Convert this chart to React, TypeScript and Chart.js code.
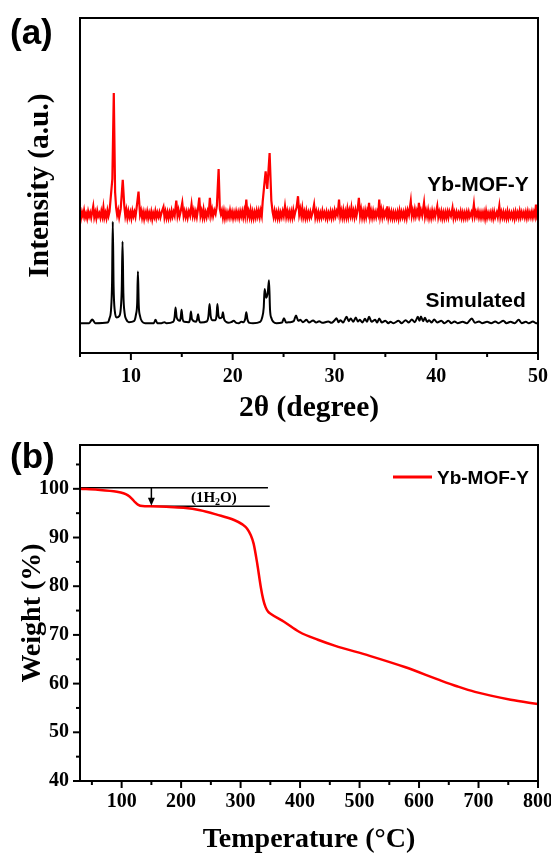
import React, { useEffect, useRef } from 'react';
import { Chart, registerables } from 'chart.js';

Chart.register(...registerables);

const SERIF = '"Liberation Serif", "Times New Roman", serif';
const SANS = '"Liberation Sans", Arial, sans-serif';

// ---------------- Panel (a): XRD patterns ----------------
const xrdTickValues = [5, 10, 15, 20, 25, 30, 35, 40, 45, 50];
const xrdLabelValues = [10, 20, 30, 40, 50];
const xrdTitleX = '2θ (degree)';
const xrdTitleY = 'Intensity (a.u.)';
const xrdSeriesNames = ['Yb-MOF-Y', 'Simulated'];
// name anchors in data coordinates [2θ (right edge), intensity (baseline)]
const xrdNameAnchors: [number, number][] = [[49.1, 48.4], [48.8, 13.7]];

const simulatedPattern: [number, number][] = [
  [5.0, 8.9], [5.9, 8.9], [6.2, 10.0], [6.5, 8.9],
  [7.7, 9.1], [7.9, 10.4], [8.05, 13], [8.15, 21], [8.22, 39.2], [8.3, 20], [8.42, 12.5],
  [8.6, 10.6], [8.85, 11], [9.0, 13], [9.1, 19], [9.18, 33.3], [9.26, 18], [9.38, 12], [9.55, 10], [9.8, 9.2],
  [10.3, 9.5], [10.5, 11.5], [10.62, 15], [10.69, 24.3], [10.77, 14.5], [10.9, 11], [11.1, 9.4], [11.4, 8.9],
  [12.25, 8.9], [12.42, 9.9], [12.6, 8.9], [13.0, 8.9], [13.3, 9.2], [13.5, 8.9],
  [14.15, 9.3], [14.3, 10.8], [14.39, 13.6], [14.5, 10.6], [14.8, 9.6], [14.9, 10.6], [14.98, 12.9], [15.08, 10.2], [15.25, 9.3],
  [15.7, 9.2], [15.82, 10.3], [15.9, 12.4], [16.0, 10.1], [16.4, 9.3], [16.52, 10.2], [16.6, 11.6], [16.7, 9.8], [16.85, 9.1],
  [17.45, 9.4], [17.62, 11], [17.73, 14.6], [17.84, 11], [18.0, 9.8], [18.3, 9.8], [18.42, 11.2], [18.5, 14.6], [18.6, 11.2],
  [18.75, 10.4], [18.95, 10.7], [19.04, 12.2], [19.15, 10.2], [19.35, 9.3], [19.6, 9.0], [19.85, 9.2], [20.1, 9.6],
  [20.35, 9.0], [20.6, 8.9], [20.85, 9.3], [21.05, 9.2], [21.24, 10.3], [21.34, 12.2], [21.45, 10.1], [21.65, 9.0], [22.0, 8.9],
  [22.7, 9.3], [22.9, 10.6], [23.05, 13.5], [23.14, 19.1], [23.3, 16.5], [23.45, 18], [23.57, 21.7],
  [23.67, 13], [23.82, 10.3], [24.0, 9.3], [24.3, 8.9],
  [24.85, 9.1], [25.04, 10.4], [25.25, 9.1], [25.6, 9.2], [26.0, 9.5], [26.22, 11.2],
  [26.45, 9.6], [26.65, 9.9], [26.9, 9.2], [27.26, 9.9], [27.5, 9.1], [27.9, 9.7],
  [28.2, 9.1], [28.5, 9.5], [28.8, 9.0], [29.4, 9.4], [29.7, 9.0],
  [30.0, 9.7], [30.2, 10.4], [30.4, 9.2], [30.6, 9.8], [30.85, 9.1], [31.2, 10.8],
  [31.4, 9.5], [31.6, 10.3], [31.85, 9.3], [32.1, 10.6], [32.3, 9.4], [32.5, 9.9],
  [32.75, 9.1], [33.0, 10.2], [33.2, 9.3], [33.4, 10.8], [33.65, 9.3], [34.0, 9.9],
  [34.2, 9.1], [34.4, 10.3], [34.65, 9.1], [35.0, 9.6], [35.3, 8.9], [35.5, 9.3],
  [35.8, 8.9], [36.3, 9.6], [36.6, 8.9], [37.0, 9.8], [37.3, 9.1], [37.6, 10.0],
  [37.9, 9.2], [38.2, 10.8], [38.35, 9.6], [38.5, 10.9], [38.7, 9.5], [38.9, 10.5],
  [39.1, 9.3], [39.3, 9.8], [39.55, 9.1], [39.8, 10.0], [40.1, 9.1], [40.5, 9.6],
  [40.8, 8.9], [41.2, 9.6], [41.5, 8.9], [41.8, 9.4], [42.1, 8.9], [42.6, 9.3],
  [43.0, 8.9], [43.5, 10.3], [43.8, 9.0], [44.2, 9.4], [44.5, 8.9], [45.0, 9.3],
  [45.4, 8.9], [45.8, 9.4], [46.1, 8.9], [46.6, 9.6], [46.9, 8.9], [47.3, 9.3],
  [47.7, 8.9], [48.1, 9.9], [48.4, 8.9], [48.8, 9.3], [49.1, 8.9], [49.5, 9.4],
  [49.8, 8.9], [50.0, 9.0],
];

const ybMofPattern: [number, number][] = [
  [5.0, 41.8], [5.1, 40.3], [5.2, 42.1], [5.3, 40.9], [5.4, 42.6], [5.5, 40.5], [5.6, 41.6],
  [5.7, 40.2], [5.8, 42.2], [5.9, 40.8], [6.0, 41.9], [6.1, 40.4], [6.3, 43.8], [6.4, 40.6],
  [6.5, 42.0], [6.6, 40.3], [6.7, 42.4], [6.8, 40.9], [6.9, 41.7], [7.0, 40.4], [7.1, 42.3],
  [7.2, 40.8], [7.3, 43.4], [7.4, 40.5], [7.5, 41.8], [7.6, 40.3], [7.7, 42.5], [7.8, 40.9],
  [7.9, 42.2], [8.05, 47.5], [8.18, 52], [8.32, 77.6], [8.45, 48], [8.55, 43.4], [8.65, 41.2],
  [8.75, 42.6], [8.85, 40.5], [9.0, 43.0], [9.2, 51.7], [9.35, 44], [9.45, 41.0], [9.55, 42.7],
  [9.65, 40.4], [9.75, 42.3], [9.85, 40.6], [9.95, 42.0], [10.05, 40.3], [10.15, 42.4],
  [10.25, 40.9], [10.35, 42.1], [10.45, 40.7], [10.55, 43.0], [10.75, 48.2], [10.9, 41.3],
  [11.0, 42.5], [11.1, 40.4], [11.2, 42.0], [11.3, 40.1], [11.4, 41.9], [11.5, 40.6],
  [11.6, 42.2], [11.7, 40.3], [11.8, 41.8], [11.9, 40.5], [12.0, 42.1], [12.1, 40.0],
  [12.2, 41.7], [12.3, 40.6], [12.4, 42.3], [12.5, 40.4], [12.6, 41.9], [12.7, 40.7],
  [12.8, 42.0], [12.9, 40.5], [13.05, 42.3], [13.2, 43.6], [13.3, 40.6], [13.4, 42.2],
  [13.5, 40.4], [13.6, 42.0], [13.7, 40.3], [13.8, 41.9], [13.9, 40.5], [14.0, 42.4],
  [14.1, 40.8], [14.2, 42.1], [14.3, 41.0], [14.46, 45.5], [14.58, 41.0], [14.68, 42.6],
  [14.78, 40.8], [14.9, 42.4], [15.05, 44.9], [15.18, 40.9], [15.28, 42.3], [15.38, 40.6],
  [15.48, 42.1], [15.58, 40.4], [15.7, 42.3], [15.82, 41.0], [15.96, 44.3], [16.08, 41.0],
  [16.18, 42.5], [16.28, 40.7], [16.38, 42.2], [16.48, 40.6], [16.58, 42.6], [16.72, 46.4],
  [16.84, 41.0], [16.94, 42.4], [17.04, 40.6], [17.14, 42.8], [17.24, 40.5], [17.34, 42.0],
  [17.44, 40.6], [17.54, 42.3], [17.64, 41.2], [17.76, 46.3], [17.88, 41.2], [17.98, 42.8],
  [18.08, 40.9], [18.2, 42.6], [18.32, 41.5], [18.45, 44], [18.62, 54.9], [18.74, 43],
  [18.84, 41.5], [18.94, 42.6], [19.04, 40.5], [19.14, 42.4], [19.24, 40.3], [19.34, 42.0],
  [19.44, 40.4], [19.54, 41.9], [19.64, 40.6], [19.74, 42.5], [19.84, 40.7], [19.94, 42.1],
  [20.04, 40.3], [20.14, 41.9], [20.24, 40.5], [20.34, 42.2], [20.44, 40.6], [20.54, 42.0],
  [20.64, 40.4], [20.74, 42.2], [20.84, 40.8], [20.94, 42.3], [21.04, 40.5], [21.14, 42.4],
  [21.22, 41.0], [21.34, 45.8], [21.46, 40.8], [21.56, 42.3], [21.66, 40.6], [21.76, 42.6],
  [21.86, 40.4], [21.96, 42.1], [22.06, 40.3], [22.16, 42.0], [22.26, 40.5], [22.36, 42.4],
  [22.46, 40.8], [22.56, 42.4], [22.66, 40.6], [22.76, 42.5], [22.86, 41.0],
  [22.95, 45.2], [23.1, 50], [23.24, 54.2], [23.4, 49], [23.63, 59.7], [23.8, 45.5],
  [23.92, 42.2], [24.02, 40.6], [24.12, 42.4], [24.22, 40.5], [24.32, 42.0], [24.42, 40.3],
  [24.52, 42.1], [24.62, 40.3], [24.72, 41.9], [24.82, 40.6], [24.92, 42.3], [25.02, 40.9],
  [25.14, 43.8], [25.26, 40.7], [25.36, 42.3], [25.46, 40.5], [25.56, 42.1], [25.66, 40.4],
  [25.76, 42.2], [25.86, 40.5], [25.96, 42.6], [26.06, 40.8], [26.16, 42.2], [26.28, 43.4],
  [26.42, 46.8], [26.54, 41.4], [26.64, 43.0], [26.74, 41.0], [26.84, 43.2], [26.94, 40.6],
  [27.04, 42.1], [27.14, 40.4], [27.24, 42.3], [27.34, 40.4], [27.44, 41.9], [27.54, 40.5],
  [27.64, 42.1], [27.74, 40.7], [27.86, 42.0], [28.0, 44.3], [28.12, 40.6], [28.22, 42.2],
  [28.32, 40.4], [28.42, 42.0], [28.52, 40.3], [28.62, 41.8], [28.72, 40.5], [28.82, 42.4],
  [28.92, 40.8], [29.02, 41.9], [29.12, 40.4], [29.22, 42.0], [29.32, 40.2], [29.42, 41.8],
  [29.52, 40.6], [29.62, 42.2], [29.72, 40.4], [29.82, 42.0], [29.92, 40.6], [30.02, 42.5],
  [30.12, 40.9], [30.22, 42.3], [30.32, 41.3], [30.45, 45.8], [30.57, 40.8], [30.67, 42.4],
  [30.77, 40.6], [30.87, 42.6], [30.97, 40.5], [31.07, 42.2], [31.17, 40.6], [31.27, 42.9],
  [31.37, 40.7], [31.47, 42.5], [31.57, 41.0], [31.67, 43.3], [31.77, 40.9], [31.87, 42.4],
  [31.97, 40.6], [32.07, 42.6], [32.17, 41.0], [32.28, 42.8], [32.4, 46.3], [32.52, 41.0],
  [32.62, 42.8], [32.72, 40.5], [32.82, 42.2], [32.92, 40.4], [33.02, 42.4], [33.12, 40.6],
  [33.22, 42.4], [33.3, 41.5], [33.4, 44.8], [33.5, 40.7], [33.6, 42.3], [33.7, 40.5],
  [33.8, 42.3], [33.9, 40.6], [34.0, 42.0], [34.1, 40.6], [34.2, 42.2], [34.3, 41.2],
  [34.4, 45.8], [34.5, 40.9], [34.6, 42.7], [34.7, 40.6], [34.8, 42.5], [34.9, 40.8],
  [35.0, 42.1], [35.1, 41.0], [35.2, 43.8], [35.3, 40.5], [35.4, 42.2], [35.5, 40.5],
  [35.6, 42.1], [35.7, 40.3], [35.8, 41.9], [35.9, 40.3], [36.0, 41.9], [36.1, 40.4],
  [36.2, 42.0], [36.3, 40.2], [36.4, 42.4], [36.5, 40.6], [36.6, 42.1], [36.7, 40.6],
  [36.8, 42.0], [36.9, 40.4], [37.0, 42.2], [37.1, 40.4], [37.2, 42.6], [37.32, 41.2],
  [37.5, 45.3], [37.6, 41.0], [37.7, 42.5], [37.8, 40.8], [37.9, 42.8], [38.0, 40.9],
  [38.1, 42.4], [38.2, 41.2], [38.3, 44.8], [38.4, 41.2], [38.5, 42.6], [38.62, 41.0],
  [38.8, 44.8], [38.9, 40.8], [39.0, 42.4], [39.1, 40.8], [39.2, 42.6], [39.3, 40.4],
  [39.4, 42.0], [39.5, 40.4], [39.6, 42.4], [39.7, 40.7], [39.8, 42.2], [39.9, 40.7],
  [40.1, 43.8], [40.2, 40.6], [40.3, 42.1], [40.4, 40.6], [40.5, 42.2], [40.6, 40.3],
  [40.7, 41.9], [40.8, 40.3], [40.9, 42.0], [41.0, 40.5], [41.1, 42.1], [41.2, 40.5],
  [41.3, 42.3], [41.45, 40.9], [41.6, 43.3], [41.7, 40.4], [41.8, 41.9], [41.9, 40.4],
  [42.0, 42.0], [42.1, 40.6], [42.2, 41.8], [42.3, 40.6], [42.4, 42.2], [42.5, 40.4],
  [42.6, 41.9], [42.7, 40.3], [42.8, 41.8], [42.9, 40.4], [43.0, 42.0], [43.1, 40.5],
  [43.2, 42.1], [43.3, 40.7], [43.45, 42.0], [43.55, 40.6], [43.7, 44.3], [43.8, 40.8],
  [43.9, 42.1], [44.0, 40.8], [44.1, 42.2], [44.2, 40.5], [44.3, 41.9], [44.4, 40.4],
  [44.5, 41.9], [44.6, 40.5], [44.7, 42.0], [44.8, 40.2], [44.9, 42.3], [45.0, 40.4],
  [45.1, 41.8], [45.2, 40.6], [45.3, 41.9], [45.4, 40.4], [45.5, 42.0], [45.6, 40.3],
  [45.7, 42.1], [45.8, 40.5], [45.95, 42.0], [46.05, 40.6], [46.2, 43.8], [46.3, 40.5],
  [46.4, 42.0], [46.5, 40.5], [46.6, 42.0], [46.7, 40.4], [46.8, 41.8], [46.9, 40.3],
  [47.0, 42.2], [47.1, 40.4], [47.2, 41.9], [47.3, 40.6], [47.4, 41.8], [47.5, 40.4],
  [47.6, 41.9], [47.7, 40.2], [47.8, 42.1], [47.9, 40.6], [48.0, 41.9], [48.1, 40.5],
  [48.2, 42.3], [48.3, 40.6], [48.4, 42.0], [48.5, 40.7], [48.6, 41.9], [48.7, 40.5],
  [48.8, 42.0], [48.9, 40.4], [49.0, 42.2], [49.1, 40.6], [49.2, 41.9], [49.3, 40.6],
  [49.4, 42.1], [49.5, 40.5], [49.6, 42.0], [49.7, 40.8], [49.8, 44.3], [49.9, 41.0],
  [50.0, 42.0],
];

// ---------------- Panel (b): TGA ----------------
const tgaXTickValues = [50, 100, 150, 200, 250, 300, 350, 400, 450, 500, 550, 600, 650, 700, 750, 800];
const tgaXLabelValues = [100, 200, 300, 400, 500, 600, 700, 800];
const tgaYTickValues = [40, 45, 50, 55, 60, 65, 70, 75, 80, 85, 90, 95, 100, 105];
const tgaYLabelValues = [40, 50, 60, 70, 80, 90, 100];
const tgaTitleX = 'Temperature (°C)';
const tgaTitleY = 'Weight (%)';
const tgaSeriesName = 'Yb-MOF-Y';

const tgaCurve: [number, number][] = [
  [30, 100.0], [60, 99.8], [92, 99.4], [103, 99.1], [110, 98.7], [117, 98.0], [123, 97.2],
  [128, 96.7], [135, 96.45], [148, 96.4], [175, 96.3], [204, 96.1], [232, 95.6], [260, 94.7],
  [289, 93.6], [303, 92.7], [311, 91.8], [317, 90.5], [322, 88.7], [328, 84.6], [334, 79.8],
  [338, 77.3], [342, 75.7], [346, 74.8], [351, 74.3], [373, 72.7], [399, 70.6], [430, 69.0],
  [458, 67.8], [517, 65.7], [576, 63.4], [635, 60.7], [665, 59.4], [694, 58.3], [754, 56.7],
  [800, 55.8],
];
// water-loss step annotation
const waterUpperLine: [number, number][] = [[30, 100.2], [346, 100.2]];
const waterLowerLine: [number, number][] = [[142, 96.4], [349, 96.4]];
const waterArrow = { x: 150, from: 100.2, to: 96.5 };
const waterLabel = { x: 255, y: 98.4, parts: ['(1H', '2', 'O)'] };

const toXY = (arr: [number, number][]) => arr.map(([x, y]) => ({ x, y }));

function frameTicksPlugin(id: string, xMajor: number, yMajor: number | null, panelLabel: string, labelBaseline: number) {
  return {
    id,
    afterDraw(chart: any) {
      const { ctx, chartArea } = chart;
      const { left, top, right, bottom } = chartArea;
      ctx.save();
      ctx.strokeStyle = '#000';
      ctx.lineWidth = 2;
      ctx.strokeRect(left, top, right - left, bottom - top);
      const xs = chart.scales.x;
      xs.ticks.forEach((t: any) => {
        const px = xs.getPixelForValue(t.value);
        const len = t.value % xMajor === 0 ? 7 : 4;
        ctx.beginPath();
        ctx.moveTo(px, bottom);
        ctx.lineTo(px, bottom + len);
        ctx.stroke();
      });
      if (yMajor) {
        const ys = chart.scales.y;
        ys.ticks.forEach((t: any) => {
          const py = ys.getPixelForValue(t.value);
          const len = t.value % yMajor === 0 ? 7 : 4;
          ctx.beginPath();
          ctx.moveTo(left, py);
          ctx.lineTo(left - len, py);
          ctx.stroke();
        });
      }
      ctx.fillStyle = '#000';
      ctx.font = `bold 35px ${SANS}`;
      ctx.textAlign = 'left';
      ctx.textBaseline = 'alphabetic';
      ctx.fillText(panelLabel, 10, labelBaseline);
      ctx.restore();
    },
  };
}

const xrdLabelsPlugin = {
  id: 'xrdLabels',
  afterDatasetsDraw(chart: any) {
    const { ctx } = chart;
    const xs = chart.scales.x;
    const ys = chart.scales.y;
    ctx.save();
    ctx.fillStyle = '#000';
    ctx.font = `bold 21px ${SANS}`;
    ctx.textAlign = 'right';
    ctx.textBaseline = 'alphabetic';
    xrdSeriesNames.forEach((name, i) => {
      const [ax, ay] = xrdNameAnchors[i];
      ctx.fillText(name, xs.getPixelForValue(ax), ys.getPixelForValue(ay));
    });
    ctx.restore();
  },
};

const tgaAnnotPlugin = {
  id: 'tgaAnnot',
  afterDatasetsDraw(chart: any) {
    const { ctx, chartArea } = chart;
    const xs = chart.scales.x;
    const ys = chart.scales.y;
    ctx.save();
    // arrow
    const ax = xs.getPixelForValue(waterArrow.x);
    const y1 = ys.getPixelForValue(waterArrow.from);
    const y2 = ys.getPixelForValue(waterArrow.to);
    ctx.strokeStyle = '#000';
    ctx.fillStyle = '#000';
    ctx.lineWidth = 1.5;
    ctx.beginPath();
    ctx.moveTo(ax, y1);
    ctx.lineTo(ax, y2 - 5);
    ctx.stroke();
    ctx.beginPath();
    ctx.moveTo(ax - 3.5, y2 - 8);
    ctx.lineTo(ax + 3.5, y2 - 8);
    ctx.lineTo(ax, y2);
    ctx.closePath();
    ctx.fill();
    // label (1H2O)
    const cx = xs.getPixelForValue(waterLabel.x);
    const cy = ys.getPixelForValue(waterLabel.y);
    const mainFont = `bold 15px ${SERIF}`;
    const subFont = `bold 10px ${SERIF}`;
    ctx.font = mainFont;
    const w1 = ctx.measureText(waterLabel.parts[0]).width;
    const w3 = ctx.measureText(waterLabel.parts[2]).width;
    ctx.font = subFont;
    const w2 = ctx.measureText(waterLabel.parts[1]).width;
    let x0 = cx - (w1 + w2 + w3) / 2;
    const base = cy + 5;
    ctx.textAlign = 'left';
    ctx.textBaseline = 'alphabetic';
    ctx.font = mainFont;
    ctx.fillText(waterLabel.parts[0], x0, base);
    x0 += w1;
    ctx.font = subFont;
    ctx.fillText(waterLabel.parts[1], x0, base + 3);
    x0 += w2;
    ctx.font = mainFont;
    ctx.fillText(waterLabel.parts[2], x0, base);
    // legend
    const { right, top } = chartArea;
    ctx.strokeStyle = '#ff0000';
    ctx.lineWidth = 3;
    ctx.beginPath();
    ctx.moveTo(right - 145, top + 32);
    ctx.lineTo(right - 106, top + 32);
    ctx.stroke();
    ctx.fillStyle = '#000';
    ctx.font = `bold 19px ${SANS}`;
    ctx.fillText(tgaSeriesName, right - 101, top + 39);
    ctx.restore();
  },
};

const tickFont = { family: SERIF, size: 20, weight: 'bold' as const };
const titleFont = { family: SERIF, size: 28, weight: 'bold' as const, lineHeight: 1 };
const titleFontA = { family: SERIF, size: 29.5, weight: 'bold' as const, lineHeight: 1 };

function makeXrdConfig(): any {
  return {
    type: 'line',
    data: {
      datasets: [
        {
          label: xrdSeriesNames[0],
          data: toXY(ybMofPattern),
          borderColor: '#ff0000',
          borderWidth: 2.2,
          pointRadius: 0,
          tension: 0,
          fill: false,
        },
        {
          label: xrdSeriesNames[1],
          data: toXY(simulatedPattern),
          borderColor: '#000000',
          borderWidth: 2,
          pointRadius: 0,
          cubicInterpolationMode: 'monotone',
          fill: false,
        },
      ],
    },
    options: {
      responsive: false,
      animation: false,
      devicePixelRatio: 1,
      layout: { padding: { left: 0, right: 13, top: 18, bottom: 0 } },
      plugins: { legend: { display: false }, tooltip: { enabled: false } },
      scales: {
        x: {
          type: 'linear',
          min: 5,
          max: 50,
          afterBuildTicks: (s: any) => { s.ticks = xrdTickValues.map((v) => ({ value: v })); },
          afterFit: (s: any) => { s.height = 74; s.paddingLeft = 0; s.paddingRight = 0; },
          grid: { display: false, drawTicks: false },
          border: { display: false },
          ticks: {
            autoSkip: false,
            maxRotation: 0,
            padding: 12,
            color: '#000',
            font: tickFont,
            callback: (v: number) => (xrdLabelValues.includes(v) ? String(v) : ''),
          },
          title: { display: true, text: xrdTitleX, color: '#000', font: titleFontA, padding: { top: 0, bottom: 4 } },
        },
        y: {
          type: 'linear',
          min: 0,
          max: 100,
          afterFit: (s: any) => { s.width = 80; s.paddingTop = 0; s.paddingBottom = 0; },
          grid: { display: false, drawTicks: false },
          border: { display: false },
          ticks: { display: false },
          title: { display: true, text: xrdTitleY, color: '#000', font: titleFontA, padding: { top: 26, bottom: 0 } },
        },
      },
    },
    plugins: [frameTicksPlugin('frameA', 10, null, '(a)', 44), xrdLabelsPlugin],
  };
}

function makeTgaConfig(): any {
  return {
    type: 'line',
    data: {
      datasets: [
        {
          label: tgaSeriesName,
          data: toXY(tgaCurve),
          borderColor: '#ff0000',
          borderWidth: 2.5,
          pointRadius: 0,
          cubicInterpolationMode: 'monotone',
          fill: false,
          order: 0,
        },
        {
          label: 'upper',
          data: toXY(waterUpperLine),
          borderColor: '#000',
          borderWidth: 1.5,
          pointRadius: 0,
          fill: false,
          order: 1,
        },
        {
          label: 'lower',
          data: toXY(waterLowerLine),
          borderColor: '#000',
          borderWidth: 1.5,
          pointRadius: 0,
          fill: false,
          order: 1,
        },
      ],
    },
    options: {
      responsive: false,
      animation: false,
      devicePixelRatio: 1,
      layout: { padding: { left: 0, right: 13, top: 18, bottom: 0 } },
      plugins: { legend: { display: false }, tooltip: { enabled: false } },
      scales: {
        x: {
          type: 'linear',
          min: 30,
          max: 800,
          afterBuildTicks: (s: any) => { s.ticks = tgaXTickValues.map((v) => ({ value: v })); },
          afterFit: (s: any) => { s.height = 73; s.paddingLeft = 0; s.paddingRight = 0; },
          grid: { display: false, drawTicks: false },
          border: { display: false },
          ticks: {
            autoSkip: false,
            maxRotation: 0,
            padding: 9,
            color: '#000',
            font: tickFont,
            callback: (v: number) => (tgaXLabelValues.includes(v) ? String(v) : ''),
          },
          title: { display: true, text: tgaTitleX, color: '#000', font: titleFont, padding: { top: 0, bottom: 0 } },
        },
        y: {
          type: 'linear',
          min: 40,
          max: 109,
          afterBuildTicks: (s: any) => { s.ticks = tgaYTickValues.map((v) => ({ value: v })); },
          afterFit: (s: any) => { s.width = 80; s.paddingTop = 0; s.paddingBottom = 0; },
          grid: { display: false, drawTicks: false },
          border: { display: false },
          ticks: {
            autoSkip: false,
            padding: 11,
            color: '#000',
            font: tickFont,
            callback: (v: number) => (tgaYLabelValues.includes(v) ? String(v) : ''),
          },
          title: { display: true, text: tgaTitleY, color: '#000', font: titleFont, padding: { top: 19, bottom: 0 } },
        },
      },
    },
    plugins: [frameTicksPlugin('frameB', 100, 10, '(b)', 41), tgaAnnotPlugin],
  };
}

export default function App() {
  const refA = useRef<HTMLCanvasElement>(null);
  const refB = useRef<HTMLCanvasElement>(null);

  useEffect(() => {
    const a = new Chart(refA.current as HTMLCanvasElement, makeXrdConfig());
    const b = new Chart(refB.current as HTMLCanvasElement, makeTgaConfig());
    return () => {
      a.destroy();
      b.destroy();
    };
  }, []);

  return (
    <div style={{ position: 'absolute', left: 0, top: 0, width: 551, height: 854, background: '#fff' }}>
      <canvas ref={refA} width={551} height={427} style={{ position: 'absolute', left: 0, top: 0, display: 'block' }} />
      <canvas ref={refB} width={551} height={427} style={{ position: 'absolute', left: 0, top: 427, display: 'block' }} />
    </div>
  );
}
